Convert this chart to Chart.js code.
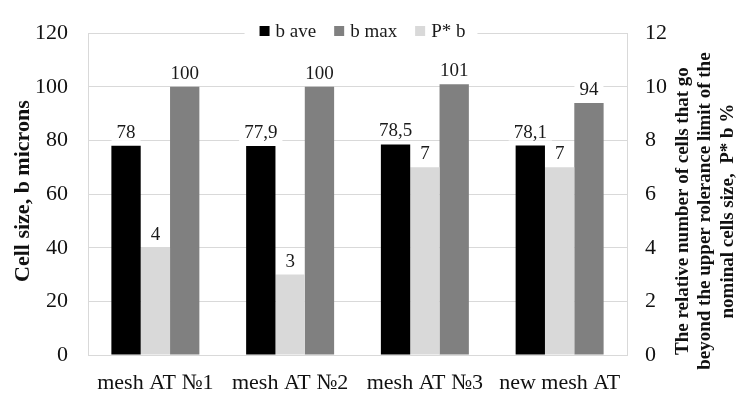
<!DOCTYPE html>
<html>
<head>
<meta charset="utf-8">
<script src="https://cdn.jsdelivr.net/npm/chart.js@4/dist/chart.umd.min.js"></script>
<style>
  html, body { margin: 0; padding: 0; background: #ffffff; }
  #wrap { width: 739px; height: 397px; }
</style>
</head>
<body>
<div id="wrap"><canvas id="c" width="739" height="397"></canvas></div>
<script>
// Mesh samples and measured cell sizes
const categories = ['mesh AT №1', 'mesh AT №2', 'mesh AT №3', 'new mesh AT'];
const bAve = [78, 77.9, 78.5, 78.1];      // average cell size, microns
const bMax = [100, 100, 101, 94];         // maximum cell size, microns
const pStar = [4, 3, 7, 7];               // share of cells above tolerance, %

// Axis ranges
const leftAxis = { min: 0, max: 120, step: 20 };
const rightAxis = { min: 0, max: 12, step: 2 };

const leftTitle = 'Cell size, b microns';
const rightTitle = [
  'The relative number of cells that go',
  'beyond the upper rolerance limit of the',
  'nominal cells size,  P* b %'
];
const legendOrder = ['b ave', 'b max', 'P* b'];

const SERIF = "'Liberation Serif', 'Times New Roman', serif";
const GRID = '#d9d9d9';

const fmt = v => String(v).replace('.', ',');

const overlay = {
  id: 'overlay',
  afterDatasetsDraw(chart) {
    const ctx = chart.ctx;
    const area = chart.chartArea;
    ctx.save();

    // value labels above each bar, on a white backing
    ctx.font = '19px ' + SERIF;
    ctx.textAlign = 'center';
    ctx.textBaseline = 'alphabetic';
    chart.data.datasets.forEach((ds, di) => {
      const meta = chart.getDatasetMeta(di);
      meta.data.forEach((bar, i) => {
        const txt = fmt(ds.data[i]);
        const w = ctx.measureText(txt).width;
        const base = bar.y - 8;
        ctx.fillStyle = '#ffffff';
        ctx.fillRect(bar.x - w / 2 - 5, base - 16, w + 10, 19);
        ctx.fillStyle = '#1a1a1a';
        ctx.fillText(txt, bar.x, base);
      });
    });

    // legend inside the plot area
    ctx.font = '19px ' + SERIF;
    const items = legendOrder.map(name => {
      const ds = chart.data.datasets.find(d => d.label === name);
      return { name, color: ds.backgroundColor, w: ctx.measureText(name).width };
    });
    const sq = 10, gap = 6, spacing = 18;
    const total = items.reduce((s, it) => s + sq + gap + it.w, 0) + spacing * (items.length - 1);
    const cx = (area.left + area.right) / 2 + 5;
    let x = cx - total / 2;
    const ly = 31;
    ctx.fillStyle = '#ffffff';
    ctx.fillRect(x - 15, 7, total + 27, 36);
    ctx.textAlign = 'left';
    ctx.textBaseline = 'alphabetic';
    items.forEach(it => {
      ctx.fillStyle = it.color;
      ctx.fillRect(x, ly - 5, sq, sq);
      ctx.fillStyle = '#1a1a1a';
      ctx.fillText(it.name, x + sq + gap, ly + 6);
      x += sq + gap + it.w + spacing;
    });

    // axis titles, both reading bottom to top
    const midY = (area.top + area.bottom) / 2;
    ctx.fillStyle = '#111111';
    ctx.textAlign = 'center';
    ctx.textBaseline = 'middle';
    ctx.font = 'bold 22px ' + SERIF;
    ctx.save();
    ctx.translate(23, midY - 3);
    ctx.rotate(-Math.PI / 2);
    ctx.fillText(leftTitle, 0, 0);
    ctx.restore();

    ctx.font = 'bold 19px ' + SERIF;
    rightTitle.forEach((line, k) => {
      ctx.save();
      ctx.translate(683 + k * 22.5, midY + 17);
      ctx.rotate(-Math.PI / 2);
      ctx.fillText(line, 0, 0);
      ctx.restore();
    });
    ctx.restore();
  }
};

new Chart(document.getElementById('c'), {
  type: 'bar',
  data: {
    labels: categories,
    datasets: [
      { label: 'b ave', data: bAve, backgroundColor: '#000000', yAxisID: 'y' },
      { label: 'P* b', data: pStar, backgroundColor: '#d9d9d9', yAxisID: 'y1' },
      { label: 'b max', data: bMax, backgroundColor: '#808080', yAxisID: 'y' }
    ]
  },
  options: {
    responsive: false,
    animation: false,
    devicePixelRatio: 1,
    categoryPercentage: 0.653,
    barPercentage: 1,
    layout: { padding: { top: 15, left: 0, right: 0, bottom: 0 } },
    plugins: {
      legend: { display: false },
      tooltip: { enabled: false }
    },
    scales: {
      x: {
        grid: { drawOnChartArea: false, drawTicks: false },
        border: { display: true, color: GRID, width: 1 },
        ticks: { font: { family: SERIF, size: 22 }, color: '#111111', padding: 15, maxRotation: 0, autoSkip: false },
        afterFit: s => { s.height = 42; }
      },
      y: {
        position: 'left',
        min: leftAxis.min, max: leftAxis.max,
        grid: { color: GRID, drawTicks: false },
        border: { display: true, color: GRID, width: 1 },
        ticks: { stepSize: leftAxis.step, font: { family: SERIF, size: 22 }, color: '#111111', padding: 20 },
        afterFit: s => { s.width = 88; }
      },
      y1: {
        position: 'right',
        min: rightAxis.min, max: rightAxis.max,
        grid: { drawOnChartArea: false, drawTicks: false },
        border: { display: true, color: GRID, width: 1 },
        ticks: { stepSize: rightAxis.step, font: { family: SERIF, size: 22 }, color: '#111111', padding: 18 },
        afterFit: s => { s.width = 112; }
      }
    }
  },
  plugins: [overlay]
});
</script>
</body>
</html>
